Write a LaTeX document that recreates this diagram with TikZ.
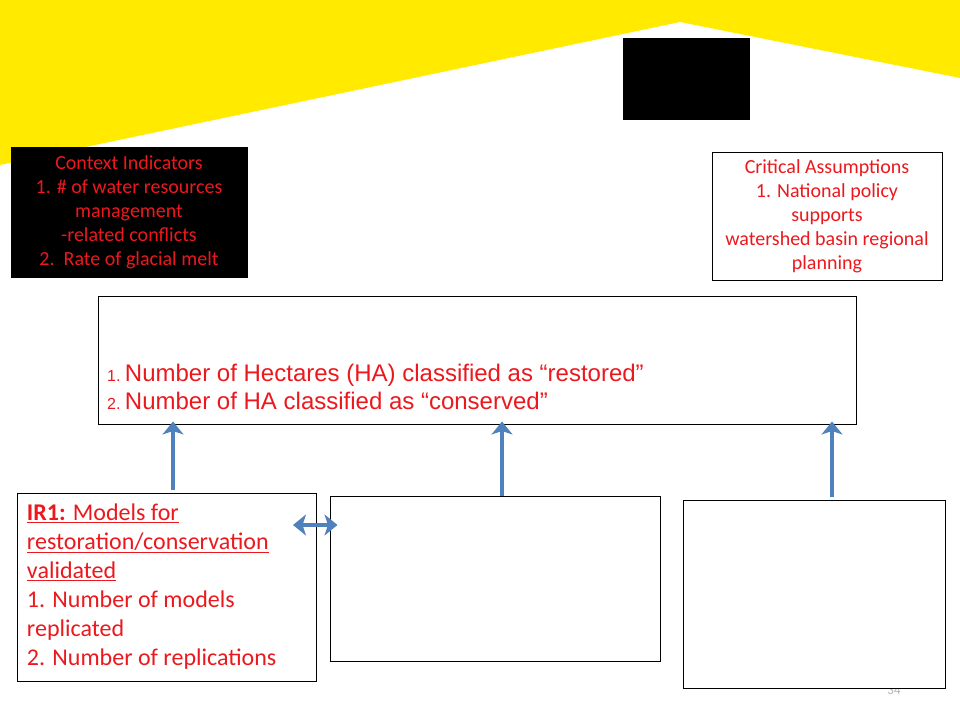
\documentclass[tikz,border=0pt]{standalone}
\usepackage{fontspec}
\setmainfont{Carlito}
\newfontfamily\arialfont{Liberation Sans}
\usepackage{xcolor}
\usetikzlibrary{positioning,calc,arrows.meta}
\definecolor{slidered}{RGB}{235,25,30}
\definecolor{slideblue}{RGB}{79,129,189}
\definecolor{slideyellow}{RGB}{255,234,0}
\tikzset{
  box/.style={draw=black, line width=1pt, fill=white, inner sep=0pt},
  bluetip/.style={Stealth[length=13pt, width=21pt, inset=3.5pt]},
  bluearrow/.style={draw=slideblue, line width=3.6pt, -{Stealth[length=13pt, width=21pt, inset=3.5pt]}},
}

\begin{document}
\begin{tikzpicture}[x=1pt,y=-1pt]
    \useasboundingbox (0,0) rectangle (960,720);

    % yellow band on top
    \fill[slideyellow] (0,0) -- (960,0) -- (960,78) -- (680,22) -- (0,165) -- cycle;

    % black block
    \fill[black] (623,38) rectangle (750,120);

    % context indicators
    \node[box, fill=black, minimum width=236pt, minimum height=130pt,
          text=slidered, align=flush center, font=\fontsize{20}{24}\selectfont]
          (context) at (129,212)
          {Context Indicators\\ 1. \# of water resources\\ management\\
           -related conflicts\\ 2.\ \ Rate of glacial melt};

    % critical assumptions
    \node[box, minimum width=230pt, minimum height=128pt,
          text=slidered, align=flush center, font=\fontsize{20}{24}\selectfont]
          (assume) at (827,216)
          {Critical Assumptions\\ 1. National policy\\ supports\\
           watershed basin regional\\ planning};

    % main result box
    \node[box, minimum width=758pt, minimum height=128pt] (main) at (477,360) {};
    \node[anchor=base west, inner sep=0pt, text=slidered, align=flush left,
          font=\arialfont\fontsize{24}{28}\selectfont]
          (mainText) at (107,409)
          {{\fontsize{16}{28}\selectfont 1.\ }Number of Hectares (HA) classified as “restored”\\
           {\fontsize{16}{28}\selectfont 2.\ }Number of HA classified as “conserved”};

    % page number, mostly hidden
    \node[text=gray!60, font=\fontsize{13}{13}\selectfont] (pagenum) at (894,690) {34};

    % lower boxes
    \node[box, minimum width=299pt, minimum height=188pt, text width=279pt,
          text=slidered, align=flush left, font=\fontsize{24}{29}\selectfont]
          (ir1) at (166.5,587)
          {\underline{\textbf{IR1:} Models for}\\ \underline{restoration/conservation}\\
           \underline{validated}\\ 1. Number of models\\ replicated\\
           2. Number of replications};
    \node[box, minimum width=330pt, minimum height=165pt] (ir2) at (495,578.5) {};
    \node[box, minimum width=262pt, minimum height=188pt] (ir3) at (814,594) {};

    % arrows up to the main box
    \coordinate (a1) at (173,490);
    \coordinate (a2) at (502,496);
    \coordinate (a3) at (832,497);
    \draw[bluearrow, shorten >=-3pt] (a1) -- (a1 |- main.south);
    \draw[bluearrow, shorten >=-3pt] (a2) -- (a2 |- main.south);
    \draw[bluearrow, shorten >=-3pt] (a3) -- (a3 |- main.south);

    % link between ir1 and ir2
    \coordinate (d1) at (293,525);
    \draw[bluearrow, {Stealth[length=13pt, width=21pt, inset=3.5pt]}-{Stealth[length=13pt, width=21pt, inset=3.5pt]},
          shorten >=-8pt] (d1) -- (d1 -| ir2.west);
\end{tikzpicture}
\end{document}
